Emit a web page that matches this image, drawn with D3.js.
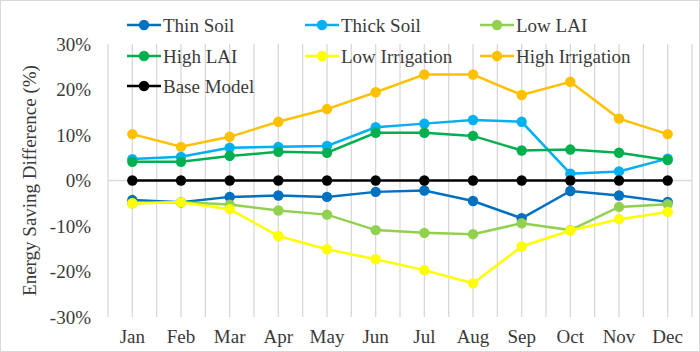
<!DOCTYPE html>
<html>
<head>
<meta charset="utf-8">
<script src="https://cdn.jsdelivr.net/npm/d3@7"></script>
<style>
  body { margin: 0; background: #fff; }
  svg, svg text { font-family: "Liberation Serif", Tinos, "Times New Roman", "DejaVu Serif", serif !important; }
  svg text { fill: #3a3a3a; }
</style>
</head>
<body>
<div id="chart"></div>
<script>
var months = ["Jan","Feb","Mar","Apr","May","Jun","Jul","Aug","Sep","Oct","Nov","Dec"];
var yTicks = [-30,-20,-10,0,10,20,30];

var thinSoil       = [-4.3,-4.8,-3.6,-3.3,-3.6,-2.5,-2.2,-4.5,-8.3,-2.3,-3.3,-4.7];
var thickSoil      = [4.7,5.2,7.2,7.4,7.6,11.7,12.5,13.3,12.9,1.5,2.0,4.8];
var lowLAI         = [-5.0,-4.8,-5.3,-6.6,-7.5,-10.9,-11.5,-11.8,-9.4,-10.9,-5.8,-5.2];
var highLAI        = [4.1,4.1,5.4,6.3,6.1,10.5,10.5,9.8,6.6,6.8,6.1,4.5];
var lowIrrigation  = [-5.0,-4.8,-6.3,-12.2,-15.1,-17.3,-19.7,-22.6,-14.5,-11.0,-8.5,-6.9];
var highIrrigation = [10.2,7.4,9.6,12.9,15.7,19.4,23.3,23.3,18.8,21.7,13.6,10.2];
var baseModel      = [0,0,0,0,0,0,0,0,0,0,0,0];

var seriesNames  = ["Thin Soil","Thick Soil","Low LAI","High LAI","Low Irrigation","High Irrigation","Base Model"];
var seriesValues = [thinSoil, thickSoil, lowLAI, highLAI, lowIrrigation, highIrrigation, baseModel];
var seriesColors = ["#0070C0","#00B0F0","#92D050","#00B050","#FFFF00","#FFC000","#000000"];

(function () {
  'use strict'

  var W = 700, H = 352;
  var fontStr = '"Liberation Serif", Tinos, "Times New Roman", "DejaVu Serif", serif';
  var margin = {top: 44, right: 8, bottom: 35, left: 108};
  var width = 692 - margin.left, height = 317 - margin.top;

  var svg = d3.select("#chart").append("svg")
      .attr("width", W).attr("height", H)
      .attr("font-family", fontStr);

  svg.append("rect")
      .attr("x", 0.5).attr("y", 0.5)
      .attr("width", W - 1).attr("height", H - 1)
      .attr("fill", "#fff").attr("stroke", "#d9d9d9");

  var g = svg.append("g").attr("transform", "translate(" + margin.left + "," + margin.top + ")");

  var x = d3.scaleBand().domain(months).range([0, width]);
  var y = d3.scaleLinear().domain([-30, 30]).range([height, 0]);
  var cx = function(i) { return x(months[i]) + x.bandwidth() / 2; };

  // vertical gridlines at band edges and centres
  var gridX = [];
  months.forEach(function(m) { gridX.push(x(m)); gridX.push(x(m) + x.bandwidth() / 2); });
  gridX.push(width);
  g.append("g").selectAll("line").data(gridX).enter().append("line")
      .attr("x1", function(d) { return d; }).attr("x2", function(d) { return d; })
      .attr("y1", 0).attr("y2", height)
      .attr("stroke", "#d9d9d9").attr("stroke-width", 1.3);

  // zero axis line
  g.append("line")
      .attr("x1", 0).attr("x2", width)
      .attr("y1", y(0)).attr("y2", y(0))
      .attr("stroke", "#d9d9d9").attr("stroke-width", 1.3);

  // y axis labels
  var yAxis = g.append("g").call(d3.axisLeft(y).tickValues(yTicks)
      .tickFormat(function(d) { return d + "%"; }).tickSize(0).tickPadding(17));
  yAxis.attr("font-family", fontStr).attr("font-size", 19);
  yAxis.select(".domain").remove();
  yAxis.selectAll("text").attr("fill", "#3a3a3a");

  // x axis labels
  var xAxis = g.append("g").attr("transform", "translate(0," + height + ")")
      .call(d3.axisBottom(x).tickSize(0).tickPadding(13));
  xAxis.attr("font-family", fontStr).attr("font-size", 19);
  xAxis.select(".domain").remove();
  xAxis.selectAll("text").attr("fill", "#3a3a3a");

  // series
  var line = d3.line().x(function(d, i) { return cx(i); }).y(function(d) { return y(d); });
  seriesValues.forEach(function(vals, s) {
    var sg = g.append("g");
    sg.append("path").datum(vals)
        .attr("d", line).attr("fill", "none")
        .attr("stroke", seriesColors[s]).attr("stroke-width", 2.5);
    sg.selectAll("circle").data(vals).enter().append("circle")
        .attr("cx", function(d, i) { return cx(i); })
        .attr("cy", function(d) { return y(d); })
        .attr("r", 5.2)
        .attr("fill", seriesColors[s]);
  });

  // y title
  svg.append("text")
      .attr("transform", "translate(29," + (margin.top + y(0)) + ") rotate(-90)")
      .attr("text-anchor", "middle").attr("dominant-baseline", "central")
      .attr("font-size", 19)
      .text("Energy Saving Difference (%)");

  // legend
  var legX = [127, 305, 480], legY = [25, 56, 86];
  seriesNames.forEach(function(name, s) {
    var lx = legX[s % 3], ly = legY[Math.floor(s / 3)];
    var lg = svg.append("g").attr("transform", "translate(" + lx + "," + ly + ")");
    lg.append("line").attr("x1", 0).attr("x2", 34).attr("y1", 0).attr("y2", 0)
        .attr("stroke", seriesColors[s]).attr("stroke-width", 2.5);
    lg.append("circle").attr("cx", 17).attr("cy", 0).attr("r", 5.2).attr("fill", seriesColors[s]);
    lg.append("text").attr("x", 36).attr("y", 0).attr("dominant-baseline", "central")
        .attr("font-size", 19).text(name);
  });
})()
</script>
</body>
</html>
